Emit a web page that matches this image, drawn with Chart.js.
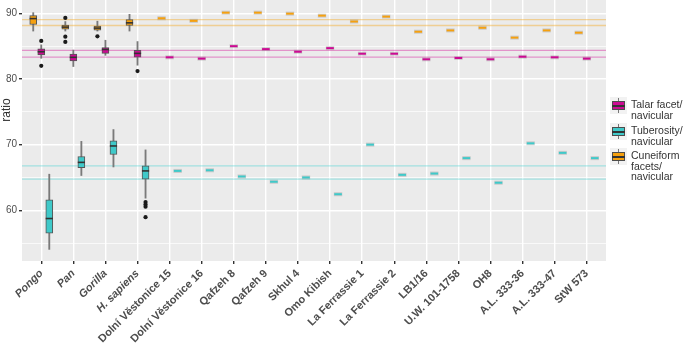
<!DOCTYPE html>
<html lang="en">
<head>
<meta charset="UTF-8">
<title>ratio</title>
<script src="https://cdn.jsdelivr.net/npm/chart.js"></script>
<style>
  body { margin: 0; background: #fff; }
  #wrap { position: relative; width: 685px; height: 343px; }
  #titulo { position: absolute; left: -14px; top: 103px; width: 40px; height: 14px; line-height: 14px; text-align: center;
    transform: rotate(-90deg); font: 12px "Liberation Sans", Arial, sans-serif; color: #333; }
  #legenda { font: 10.5px "Liberation Sans", Arial, sans-serif; color: #333; }
  .item { position: absolute; left: 610px; display: flex; align-items: flex-start; }
  .key { width: 17px; height: 17px; background: #F2F2F2; position: relative; flex: none; }
  .key .w { position: absolute; left: 8px; top: 1px; width: 1px; height: 15px; background: #777; }
  .key .b { position: absolute; left: 2px; top: 4px; width: 11px; height: 7px; border: 1px solid #4d4d4d; }
  .key .m { position: absolute; left: 2px; top: 8px; width: 13px; height: 2px; background: #333; }
  .txt { margin-left: 4px; margin-top: 2px; line-height: 10.5px; white-space: nowrap; }
</style>
</head>
<body>
<div id="wrap">
  <canvas id="grafico" width="685" height="343"></canvas>
  <div id="titulo">ratio</div>
  <div id="legenda">
    <div class="item" style="top:97px"><div class="key"><div class="w"></div><div class="b" style="background:#CC0A93"></div><div class="m"></div></div><div class="txt">Talar facet/<br>navicular</div></div>
    <div class="item" style="top:123px"><div class="key"><div class="w"></div><div class="b" style="background:#3FC9C9"></div><div class="m"></div></div><div class="txt">Tuberosity/<br>navicular</div></div>
    <div class="item" style="top:148px"><div class="key"><div class="w"></div><div class="b" style="background:#F5A00F"></div><div class="m"></div></div><div class="txt">Cuneiform<br>facets/<br>navicular</div></div>
  </div>
</div>

<script>
// categories on the x axis
const categorias = ["Pongo", "Pan", "Gorilla", "H. sapiens", "Dolní Věstonice 15", "Dolní Věstonice 16",
  "Qafzeh 8", "Qafzeh 9", "Skhul 4", "Omo Kibish", "La Ferrassie 1", "La Ferrassie 2", "LB1/16",
  "U.W. 101-1758", "OH8", "A.L. 333-36", "A.L. 333-47", "StW 573"];

// boxplots for Pongo, Pan, Gorilla, H. sapiens: [min, q1, median, q3, max]
const talarCaixa = [[83.15, 83.65, 84.15, 84.6, 85.2], [81.9, 82.75, 83.3, 83.8, 84.4],
  [83.6, 83.9, 84.5, 84.8, 85.9], [82.1, 83.32, 83.9, 84.35, 85.7]];
const tuberCaixa = [[54.05, 56.5, 58.75, 61.6, 65.5], [65.3, 66.5, 67.3, 68.2, 70.5],
  [66.6, 68.5, 69.8, 70.6, 72.3], [61.85, 64.75, 66.0, 66.78, 69.2]];
const cuneiCaixa = [[87.3, 88.3, 89.2, 89.65, 90.1], [87.3, 87.6, 87.9, 88.2, 88.75],
  [87.3, 87.45, 87.75, 88.05, 88.8], [87.3, 88.15, 88.55, 89.03, 89.85]];

// outliers per box
const talarOutliers = [[85.8, 82.0], [], [], [81.2]];
const tuberOutliers = [[], [], [], [61.25, 60.9, 60.55, 58.95]];
const cuneiOutliers = [[], [89.3, 86.45, 85.65], [86.5], []];

// single fossil values, Dolní Věstonice 15 .. StW 573
const talarFosseis = [83.3, 83.1, 85.0, 84.55, 84.15, 84.7, 83.85, 83.85, 83.0, 83.2, 83.0, 83.4, 83.3, 83.1];
const tuberFosseis = [66.0, 66.1, 65.15, 64.35, 65.0, 62.45, 70.0, 65.4, 65.6, 67.95, 64.2, 70.2, 68.75, 67.95];
const cuneiFosseis = [89.25, 88.85, 90.1, 90.1, 89.95, 89.65, 88.75, 89.5, 87.2, 87.4, 87.8, 86.3, 87.4, 87.05];

// horizontal reference lines (H. sapiens interquartile range)
const talarLinhas = [84.35, 83.32];
const tuberLinhas = [66.78, 64.75];
const cuneiLinhas = [89.03, 88.15];

// y axis ticks
const yTicks = [60, 70, 80, 90];
const yMenores = [55, 65, 75, 85];

const fonte = '"Liberation Sans", Arial, sans-serif';
Chart.defaults.font.family = fonte;

function caixas(stats, outl, fosseis, cor, desl) {
  var bigodes = stats.map((s, i) => ({ x: i + desl, y: [s[0], s[4]] }));
  var caixa = stats.map((s, i) => ({ x: i + desl, y: [s[1], s[3]] }));
  var medianas = stats.map((s, i) => ({ x: i + desl, y: s[2] }));
  var pontos = [];
  outl.forEach((arr, i) => arr.forEach(v => pontos.push({ x: i + desl, y: v })));
  var fos = fosseis.map((v, j) => ({ x: j + stats.length + desl, y: v }));
  return [
    { type: 'scatter', data: pontos, pointRadius: 2.1, pointBackgroundColor: '#1a1a1a', pointBorderWidth: 0, order: 1 },
    { type: 'scatter', data: medianas, pointStyle: 'line', pointRadius: 3.6, pointBorderColor: '#333', pointBorderWidth: 1.6, order: 2 },
    { type: 'bar', data: caixa, backgroundColor: cor, borderColor: '#555', borderWidth: 1, borderSkipped: false, barThickness: 7, grouped: false, order: 3 },
    { type: 'bar', data: bigodes, backgroundColor: '#7a7a7a', barThickness: 1.2, grouped: false, order: 4 },
    { type: 'scatter', data: fos, pointStyle: 'line', pointRadius: 3.8, pointBorderColor: cor, pointBorderWidth: 2, order: 1 },
    { type: 'scatter', data: fos, pointStyle: 'line', pointRadius: 4.2, pointBorderColor: 'rgba(140,140,140,0.35)', pointBorderWidth: 4, order: 5 }
  ];
}

// panel background
const fundo = {
  id: 'fundo',
  beforeDraw(chart) {
    const a = chart.chartArea, ctx = chart.ctx;
    ctx.save();
    ctx.fillStyle = '#EBEBEB';
    ctx.fillRect(a.left, a.top, a.right - a.left, a.bottom - a.top);
    ctx.restore();
  }
};

// reference lines
const linhas = {
  id: 'linhas',
  beforeDatasetsDraw(chart) {
    const a = chart.chartArea, ctx = chart.ctx, y = chart.scales.y;
    const grupos = [[cuneiLinhas, 'rgba(245,170,40,0.45)'], [talarLinhas, 'rgba(215,40,160,0.45)'], [tuberLinhas, 'rgba(70,210,210,0.45)']];
    ctx.save();
    ctx.lineWidth = 1.3;
    grupos.forEach(g => g[0].forEach(v => {
      const py = y.getPixelForValue(v);
      ctx.strokeStyle = g[1];
      ctx.beginPath();
      ctx.moveTo(a.left, py);
      ctx.lineTo(a.right, py);
      ctx.stroke();
    }));
    ctx.restore();
  }
};

var datasets = [].concat(
  caixas(cuneiCaixa, cuneiOutliers, cuneiFosseis, '#F5A00F', -0.25),
  caixas(talarCaixa, talarOutliers, talarFosseis, '#CC0A93', 0),
  caixas(tuberCaixa, tuberOutliers, tuberFosseis, '#3FC9C9', 0.25)
);

new Chart(document.getElementById('grafico'), {
  type: 'bar',
  data: { datasets: datasets },
  plugins: [fundo, linhas],
  options: {
    responsive: false,
    animation: false,
    events: [],
    layout: { autoPadding: false, padding: { left: 0, top: 0, right: 79, bottom: 0 } },
    plugins: { legend: { display: false }, tooltip: { enabled: false } },
    scales: {
      x: {
        type: 'linear', min: -0.6, max: 17.6, offset: false, stacked: false,
        afterBuildTicks: s => { s.ticks = categorias.map((c, i) => ({ value: i })); },
        ticks: {
          autoSkip: false, minRotation: 45, maxRotation: 45, padding: 3, color: '#4d4d4d',
          callback: v => categorias[v],
          font: c => ({ family: fonte, size: 11, weight: 'bold', style: c.index < 4 ? 'italic' : 'normal' })
        },
        grid: { color: '#fff', lineWidth: 1.4, offset: false, tickLength: 3, tickColor: '#333' },
        border: { display: false },
        afterFit: s => { s.height = 82; s.paddingLeft = 0; s.paddingRight = 0; }
      },
      y: {
        min: 52.28, max: 92.03, stacked: false,
        afterBuildTicks: s => { s.ticks = yMenores.concat(yTicks).sort((a, b) => a - b).map(v => ({ value: v })); },
        ticks: { color: '#4d4d4d', padding: 2, font: { size: 10 }, callback: v => yTicks.includes(v) ? v : '' },
        grid: {
          color: '#fff',
          lineWidth: c => yTicks.includes(c.tick.value) ? 1.4 : 0.7,
          tickLength: 3,
          tickColor: c => yTicks.includes(c.tick.value) ? '#333' : 'rgba(0,0,0,0)'
        },
        border: { display: false },
        afterFit: s => { s.width = 22; s.paddingTop = 0; s.paddingBottom = 0; }
      }
    }
  }
});
</script>
</body>
</html>
